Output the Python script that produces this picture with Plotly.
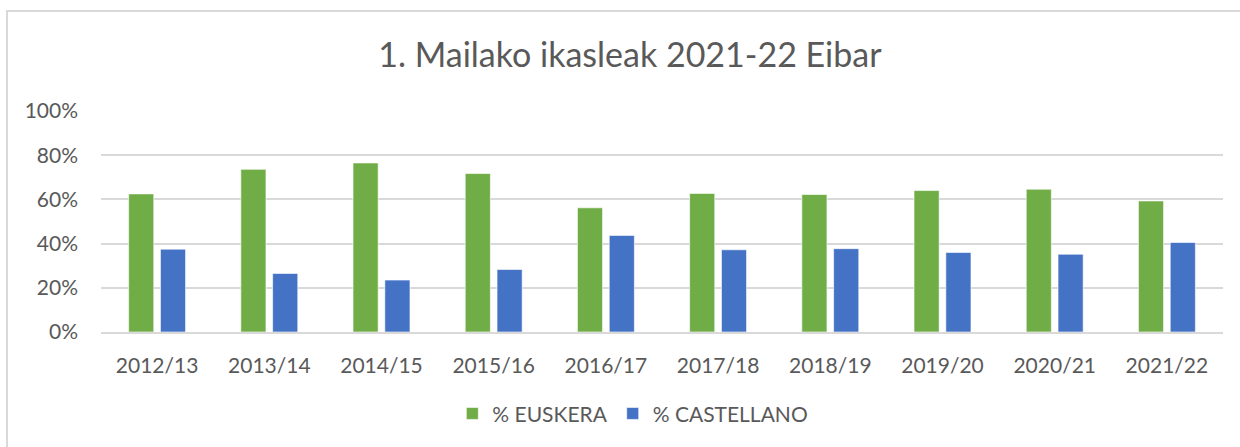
import plotly.graph_objects as go

categories = ["2012/13", "2013/14", "2014/15", "2015/16", "2016/17",
              "2017/18", "2018/19", "2019/20", "2020/21", "2021/22"]
euskera = [62.5, 73.6, 76.5, 71.7, 56.2, 62.7, 62.2, 64.0, 64.6, 59.3]
castellano = [37.5, 26.5, 23.5, 28.3, 43.7, 37.2, 37.7, 36.0, 35.2, 40.5]
y_ticks = [0, 20, 40, 60, 80, 100]
y_tick_labels = ["0%", "20%", "40%", "60%", "80%", "100%"]

FONT = "Lato"
TXT = "#595959"

fig = go.Figure()
fig.add_trace(go.Bar(x=categories, y=euskera, name="% EUSKERA",
                     marker=dict(color="#70AD47", line=dict(color="rgba(255,255,255,0.6)", width=1))))
fig.add_trace(go.Bar(x=categories, y=castellano, name="% CASTELLANO",
                     marker=dict(color="#4472C4", line=dict(color="rgba(255,255,255,0.6)", width=1))))

fig.update_layout(
    width=1240, height=447,
    margin=dict(l=101, r=17, t=111, b=115),
    paper_bgcolor="white", plot_bgcolor="white",
    barmode="group", bargap=0.433, bargroupgap=0.21,
    font=dict(family=FONT, color=TXT, size=20),
    title=dict(text="1. Mailako ikasleak 2021-22 Eibar", x=0.508, xref="container",
               y=1 - 55 / 447, yref="container", xanchor="center", yanchor="middle",
               font=dict(family=FONT, size=34, color=TXT)),
    legend=dict(orientation="h", x=0.474, xanchor="center", y=-0.37, yanchor="middle",
                font=dict(family=FONT, size=21, color=TXT), itemwidth=30,
                traceorder="normal"),
    xaxis=dict(showgrid=False, showline=True, linecolor="#D9D9D9", linewidth=1.5,
               ticks="", ticklabelstandoff=14,
               tickfont=dict(family=FONT, size=21, color=TXT)),
    yaxis=dict(range=[0, 100], tickvals=y_ticks, ticktext=y_tick_labels,
               showgrid=True, gridcolor="#D9D9D9", gridwidth=1.5, zeroline=False,
               showline=False, ticks="", ticklabelstandoff=22,
               tickfont=dict(family=FONT, size=21, color=TXT)),
    shapes=[dict(type="rect", xref="paper", yref="paper",
                 x0=(7 - 101) / 1122, x1=(1260 - 101) / 1122,
                 y0=(332 - 470) / 221, y1=(332 - 11) / 221,
                 line=dict(color="#D9D9D9", width=2), fillcolor="rgba(0,0,0,0)", layer="below")],
)

fig.write_html("out.html", config={"displayModeBar": False},
               post_script="document.body.style.margin='0';document.body.style.overflow='hidden';")
